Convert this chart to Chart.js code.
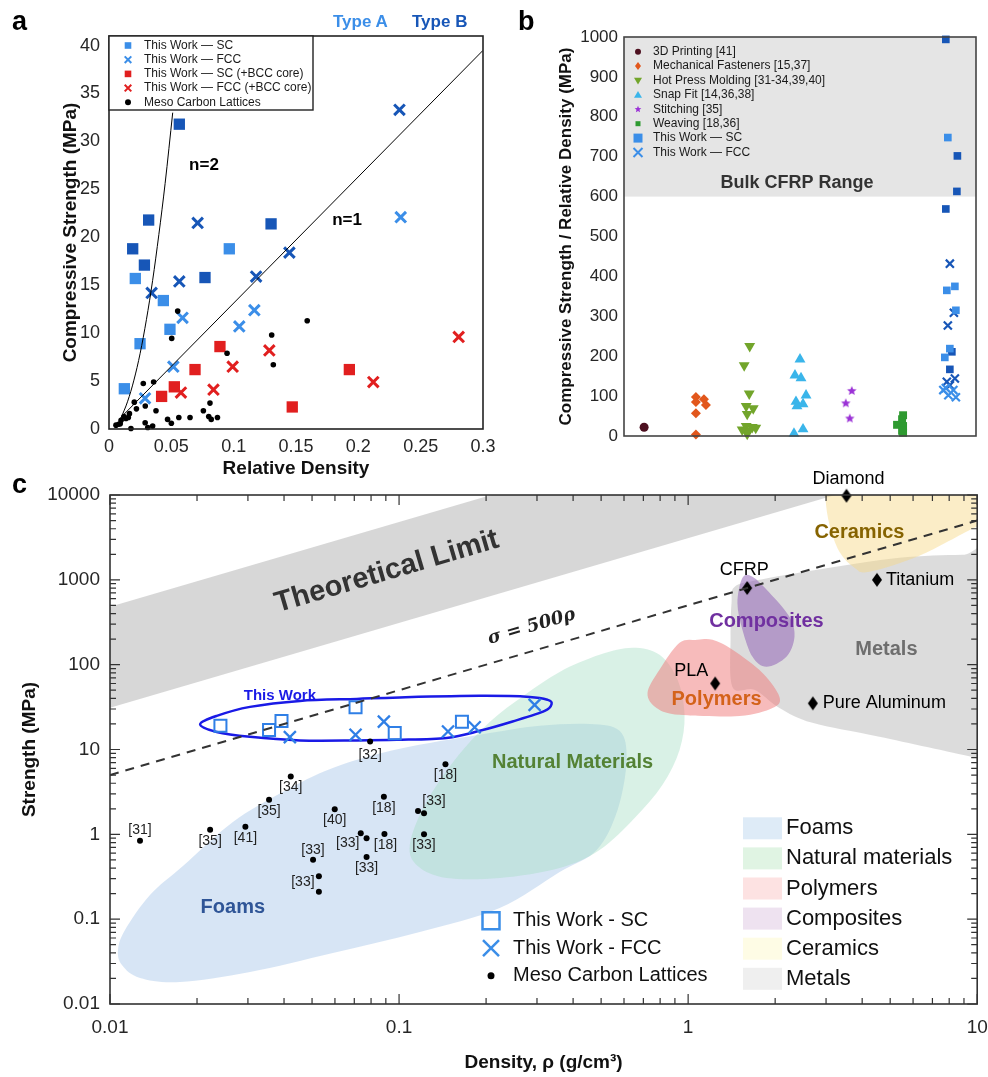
<!DOCTYPE html>
<html>
<head>
<meta charset="utf-8">
<title>Lattice strength comparison</title>
<script src="https://cdn.jsdelivr.net/npm/chart.js@4.4.1/dist/chart.umd.min.js"></script>
<style>
  html, body { margin: 0; padding: 0; background: #fff; }
  #fig { position: relative; width: 988px; height: 1077px; font-family: "Liberation Sans", Arial, sans-serif; }
  canvas { position: absolute; }
  #chartA { left: 0; top: 0; }
  #chartB { left: 500px; top: 0; }
  #chartC { left: 0; top: 466px; }
  .panel { position: absolute; font-weight: bold; font-size: 27px; line-height: 1; color: #000; }
  .typeLbl { position: absolute; font-weight: bold; font-size: 17px; line-height: 1; }
</style>
</head>
<body>
<div id="fig">
  <canvas id="chartA" width="500" height="480"></canvas>
  <canvas id="chartB" width="488" height="480"></canvas>
  <canvas id="chartC" width="988" height="611"></canvas>
  <div class="panel" style="left:12px;top:8px">a</div>
  <div class="panel" style="left:518px;top:8px">b</div>
  <div class="panel" style="left:12px;top:471px">c</div>
  <div class="typeLbl" style="left:333px;top:13px;color:#3b8ee8">Type A</div>
  <div class="typeLbl" style="left:412px;top:13px;color:#1756b7">Type B</div>
</div>
<script>
const FONT = '"Liberation Sans", Arial, Helvetica, sans-serif';
Chart.defaults.font.family = FONT;
Chart.defaults.color = '#262626';

const LIGHT = '#3b8ee8';
const DARK = '#1756b7';
const RED = '#e11f1f';
const xy = (xs, ys) => xs.map((x, i) => ({ x: x, y: ys[i] }));

// ---------------- panel a : relative density vs compressive strength ----------------
const densTicksA = [0, 0.05, 0.1, 0.15, 0.2, 0.25, 0.3];
const strengthTicksA = [0, 5, 10, 15, 20, 25, 30, 35, 40];

const scA_rho = [0.0123, 0.0211, 0.0249, 0.0436, 0.0489, 0.0965];
const scA_sig = [4.2, 15.7, 8.9, 13.4, 10.4, 18.8];
const scB_rho = [0.019, 0.0284, 0.0318, 0.0564, 0.077, 0.130];
const scB_sig = [18.8, 17.1, 21.8, 31.8, 15.8, 21.4];
const fccA_rho = [0.0289, 0.0516, 0.059, 0.1045, 0.1166, 0.234];
const fccA_sig = [3.2, 6.5, 11.6, 10.7, 12.4, 22.1];
const fccB_rho = [0.0342, 0.0564, 0.0711, 0.118, 0.1447, 0.233];
const fccB_sig = [14.2, 15.4, 21.5, 15.9, 18.4, 33.3];
const scBcc_rho = [0.0422, 0.0524, 0.069, 0.089, 0.147, 0.1928];
const scBcc_sig = [3.4, 4.4, 6.2, 8.6, 2.3, 6.2];
const fccBcc_rho = [0.0577, 0.0838, 0.0992, 0.1286, 0.212, 0.2805];
const fccBcc_sig = [3.8, 4.1, 6.5, 8.2, 4.9, 9.6];
const mesoA_rho = [0.0551, 0.0503, 0.159, 0.1305, 0.0947, 0.1318, 0.0275, 0.0358, 0.081, 0.0757, 0.080, 0.087,
  0.082, 0.065, 0.056, 0.047, 0.050, 0.0377, 0.0291, 0.0203, 0.022, 0.0164, 0.0136, 0.0097, 0.0056, 0.0176,
  0.029, 0.0311, 0.035, 0.009, 0.0078, 0.012, 0.0155];
const mesoA_sig = [12.3, 9.45, 11.3, 9.8, 7.9, 6.7, 4.75, 4.9, 2.7, 1.9, 1.3, 1.2,
  1.0, 1.2, 1.2, 1.0, 0.6, 1.9, 2.4, 2.8, 2.1, 1.6, 1.1, 0.9, 0.4, 0.05,
  0.65, 0.15, 0.3, 0.55, 0.5, 1.3, 1.2];
// scaling guide lines
const nTwo_rho = [0.0095, 0.015, 0.020, 0.025, 0.030, 0.035, 0.040, 0.045, 0.0511];
const nTwo_sig = [1.1, 2.9, 5.1, 7.9, 11.4, 15.5, 20.3, 25.6, 33.0];
const nOne_rho = [0.0095, 0.3];
const nOne_sig = [1.2, 39.5];

const legendA = [
  ['This Work \u2014 SC', 'rect', LIGHT],
  ['This Work \u2014 FCC', 'cross', LIGHT],
  ['This Work \u2014 SC (+BCC core)', 'rect', RED],
  ['This Work \u2014 FCC (+BCC core)', 'cross', RED],
  ['Meso Carbon Lattices', 'circle', '#000']
];

// ---------------- panel b : specific strength by joining method ----------------
const strengthTicksB = [0, 100, 200, 300, 400, 500, 600, 700, 800, 900, 1000];
const bulkCfrp = [600, 1000];
const printPos = [0.9];
const printVal = [22];
const fastenPos = [1.93, 2.09, 2.13, 1.93, 1.93, 1.93];
const fastenVal = [98, 92, 78, 85, 57, 4];
const pressPos = [3.0, 2.89, 2.99, 2.93, 3.07, 2.95, 2.93, 3.05, 3.12, 2.97, 2.95, 2.85];
const pressVal = [225, 177, 106, 75, 69, 55, 25, 22, 20, 12, 5, 16];
const snapPos = [4.0, 3.9, 4.02, 4.12, 3.92, 4.06, 3.94, 3.88, 4.06];
const snapVal = [192, 152, 145, 102, 86, 80, 75, 6, 17];
const stitchPos = [5.03, 4.91, 4.99];
const stitchVal = [113, 82, 44];
const weavePos = [6.05, 6.03, 5.93, 6.05, 6.03, 6.05];
const weaveVal = [52, 42, 28, 25, 13, 8];
const scLightPos = [6.94, 6.92, 7.08, 7.10, 6.98, 6.88];
const scLightVal = [748, 365, 375, 315, 219, 197];
const scDarkPos = [6.90, 7.13, 7.12, 6.90, 7.02, 6.98];
const scDarkVal = [994, 702, 613, 569, 211, 167];
const fccLightPos = [6.85, 7.05, 6.95, 7.10, 6.90];
const fccLightVal = [115, 115, 102, 97, 120];
const fccDarkPos = [6.98, 6.94, 7.06, 6.92, 7.08, 6.98];
const fccDarkVal = [432, 277, 309, 136, 144, 127];

const legendB = [
  ['3D Printing [41]', 'circle', '#4d1020', 3],
  ['Mechanical Fasteners [15,37]', 'diamond', '#e2571c', 4],
  ['Hot Press Molding [31-34,39,40]', 'triDown', '#72a52b', 4],
  ['Snap Fit [14,36,38]', 'triUp', '#3ab5ea', 4],
  ['Stitching [35]', 'star', '#9b32d6', 3.5],
  ['Weaving [18,36]', 'rect', '#2e9a30', 2.5],
  ['This Work \u2014 SC', 'rect', LIGHT, 4.5],
  ['This Work \u2014 FCC', 'cross', LIGHT, 4.5]
];

// ---------------- panel c : Ashby chart density vs strength ----------------
const rhoTicksC = [0.01, 0.1, 1, 10];
const sigTicksC = [0.01, 0.1, 1, 10, 100, 1000, 10000];

const workSC_rho = [0.0241, 0.0355, 0.0392, 0.0707, 0.0966, 0.165];
const workSC_sig = [19.0, 17.0, 21.7, 31.5, 15.6, 21.3];
const workFCC_rho = [0.0419, 0.0707, 0.0886, 0.1477, 0.1826, 0.2944];
const workFCC_sig = [14.0, 14.9, 21.3, 16.3, 18.3, 33.6];

const mesoC_rho = [0.0127, 0.0222, 0.0294, 0.0355, 0.0422, 0.0504, 0.0528, 0.0528, 0.0599, 0.0737,
  0.0772, 0.0772, 0.0794, 0.0886, 0.0890, 0.1163, 0.122, 0.122, 0.1447];
const mesoC_sig = [0.84, 1.13, 1.23, 2.55, 4.8, 0.50, 0.32, 0.21, 1.98, 1.03,
  0.90, 0.54, 12.4, 2.78, 1.01, 1.89, 1.77, 1.00, 6.7];
const mesoC_ref = ['[31]', '[35]', '[41]', '[35]', '[34]', '[33]', '[33]', '', '[40]', '[33]',
  '', '[33]', '[32]', '[18]', '[18]', '', '[33]', '[33]', '[18]'];
// label offsets (px) from each dot
const mesoC_lblDx = [0, 0, 0, 0, 0, 0, -16, 0, 0, -13, 0, 0, 0, 0, 1, 0, 10, 0, 0];
const mesoC_lblDy = [-11, 11, 11, 11, 11, -10, 6, 0, 11, 10, 0, 11, 14, 11, 11, 0, -12, 11, 11];

const matNames = ['Diamond', 'CFRP', 'PLA', 'Titanium', 'Pure Aluminum'];
const matRho = [3.53, 1.6, 1.24, 4.5, 2.7];
const matSig = [9800, 800, 60, 1000, 35];
const matLblPlace = [[2, -17, 'center'], [-3, -18, 'center'], [-24, -12, 'center'], [9, 0, 'left'], [10, 0, 'left']];

const refLine_rho = [0.01, 10];
const refLine_sig = [5, 5000];
const theoryLow_rho = [0.01, 10];
const theoryLow_sig = [31, 31000];
const theoryHigh_sig = [480, 480000];

const foams_rho = [0.01066, 0.01127, 0.01375, 0.01788, 0.02662, 0.03963, 0.0590, 0.1006, 0.190, 0.3065, 0.4563,
  0.5794, 0.6124, 0.570, 0.4825, 0.3594, 0.2229, 0.1179, 0.0590, 0.0305, 0.01746, 0.0127, 0.0110];
const foams_sig = [0.0434, 0.0747, 0.193, 0.424, 1.40, 3.16, 6.07, 10.2, 14.9, 19.0, 20.0,
  16.6, 7.54, 1.94, 0.655, 0.360, 0.1356, 0.0706, 0.0399, 0.0238, 0.01817, 0.0203, 0.0288];
const natural_rho = [0.6427, 0.4939, 0.3594, 0.2720, 0.2058, 0.1558, 0.1227, 0.1089, 0.1160, 0.1462, 0.2229,
  0.3594, 0.4939, 0.6530, 0.8155, 0.9340, 0.9719, 0.9193, 0.7962];
const natural_sig = [157.9, 130.5, 82.2, 44.0, 21.1, 7.54, 2.22, 0.750, 0.424, 0.306, 0.306,
  0.402, 0.655, 1.56, 3.83, 9.89, 25.6, 66.2, 130.5];
const polymers_rho = [1.078, 0.934, 0.796, 0.7237, 0.7778, 0.934, 1.505, 1.958, 2.070, 1.808, 1.424, 1.214];
const polymers_sig = [196, 180.8, 86.9, 46.5, 30.9, 25.6, 24.9, 30.9, 41.7, 80.0, 149.5, 196];
const composites_rho = [1.542, 1.670, 1.912, 2.241, 2.333, 2.188, 1.866, 1.670, 1.542, 1.481];
const composites_sig = [1056, 1084, 703, 366, 213, 123.6, 94.2, 123.6, 257, 535];
const metals_rho = [1.447, 1.766, 3.083, 5.379, 8.884, 11.92, 11.92, 9.616, 4.587, 2.692, 2.070, 1.696, 1.424, 1.402, 1.413];
const metals_sig = [826, 1000, 1386, 1817, 1972, 1920, 7.14, 8.18, 14.1, 20.6, 30.9, 50.5, 54.7, 213, 535];
const ceramics_rho = [2.985, 2.985, 3.083, 3.337, 3.761, 4.237, 6.307, 9.772, 11.92, 11.92];
const ceramics_sig = [19800, 9270, 4453, 2138, 1386, 1242, 1919, 4103, 5383, 19800];
const thisWork_rho = [0.0205, 0.0234, 0.0305, 0.0454, 0.0714, 0.1006, 0.190, 0.283, 0.327, 0.337, 0.319,
  0.247, 0.190, 0.146, 0.0982, 0.0714, 0.0454, 0.0305, 0.0234];
const thisWork_sig = [19.8, 24.9, 31.8, 37.4, 39.5, 41.1, 42.9, 41.7, 38.5, 34.5, 28.5,
  21.4, 16.6, 13.7, 13.0, 12.8, 12.8, 14.1, 16.1];

const regionsC = [
  { rho: foams_rho, sig: foams_sig, fill: 'rgba(176,204,236,0.5)' },
  { rho: natural_rho, sig: natural_sig, fill: 'rgba(165,222,195,0.42)' },
  { rho: metals_rho, sig: metals_sig, fill: 'rgba(178,178,178,0.45)' },
  { rho: polymers_rho, sig: polymers_sig, fill: 'rgba(240,120,120,0.5)' },
  { rho: composites_rho, sig: composites_sig, fill: 'rgba(140,90,180,0.5)' },
  { rho: ceramics_rho, sig: ceramics_sig, fill: 'rgba(246,214,130,0.45)' }
];
const regionLabels = [
  ['Foams', 0.0266, 0.136, '#2f5597'],
  ['Natural Materials', 0.3985, 6.95, '#548235'],
  ['Polymers', 1.254, 38.5, '#d4621a'],
  ['Composites', 1.866, 320, '#7030a0'],
  ['Metals', 4.851, 149.5, '#6e6e6e'],
  ['Ceramics', 3.913, 3581, '#866300']
];
const legendC1 = [['This Work - SC', 'openRect', LIGHT, 8.5], ['This Work - FCC', 'cross', LIGHT, 8], ['Meso Carbon Lattices', 'circle', '#000', 3.5]];
const legendC2 = [['Foams', '#deebf7'], ['Natural materials', '#e0f4e3'], ['Polymers', '#fde2e2'],
  ['Composites', '#eee2f0'], ['Ceramics', '#fefce5'], ['Metals', '#efefef']];

// ---------------- helpers ----------------
function starPath(g, cx, cy, r) {
  for (let i = 0; i < 10; i++) {
    const a = -Math.PI / 2 + i * Math.PI / 5;
    const rr = i % 2 ? r * 0.45 : r;
    const px = cx + rr * Math.cos(a), py = cy + rr * Math.sin(a);
    if (i) g.lineTo(px, py); else g.moveTo(px, py);
  }
  g.closePath();
}
function starImage(r, color) {
  const c = document.createElement('canvas');
  c.width = c.height = Math.ceil(r * 2 + 2);
  const g = c.getContext('2d');
  g.fillStyle = color;
  g.beginPath();
  starPath(g, c.width / 2, c.height / 2, r);
  g.fill();
  return c;
}
function tallDiamond(w, h, color) {
  const c = document.createElement('canvas');
  c.width = w + 2; c.height = h + 2;
  const g = c.getContext('2d');
  g.fillStyle = color;
  g.beginPath();
  g.moveTo(c.width / 2, 1); g.lineTo(w + 1, c.height / 2); g.lineTo(c.width / 2, h + 1); g.lineTo(1, c.height / 2);
  g.closePath();
  g.fill();
  return c;
}
function mark(ctx, shape, x, y, r, color, lw) {
  ctx.save();
  ctx.fillStyle = color; ctx.strokeStyle = color; ctx.lineWidth = lw || 2;
  ctx.beginPath();
  if (shape === 'rect') { ctx.rect(x - r, y - r, 2 * r, 2 * r); ctx.fill(); }
  else if (shape === 'openRect') { ctx.rect(x - r, y - r, 2 * r, 2 * r); ctx.stroke(); }
  else if (shape === 'circle') { ctx.arc(x, y, r, 0, Math.PI * 2); ctx.fill(); }
  else if (shape === 'diamond') {
    ctx.moveTo(x, y - r); ctx.lineTo(x + r * 0.75, y); ctx.lineTo(x, y + r); ctx.lineTo(x - r * 0.75, y);
    ctx.closePath(); ctx.fill();
  } else if (shape === 'triUp') {
    ctx.moveTo(x, y - r); ctx.lineTo(x + r, y + r * 0.7); ctx.lineTo(x - r, y + r * 0.7); ctx.closePath(); ctx.fill();
  } else if (shape === 'triDown') {
    ctx.moveTo(x, y + r); ctx.lineTo(x + r, y - r * 0.7); ctx.lineTo(x - r, y - r * 0.7); ctx.closePath(); ctx.fill();
  } else if (shape === 'star') { starPath(ctx, x, y, r); ctx.fill(); }
  else if (shape === 'cross') {
    ctx.moveTo(x - r, y - r); ctx.lineTo(x + r, y + r);
    ctx.moveTo(x + r, y - r); ctx.lineTo(x - r, y + r);
    ctx.stroke();
  }
  ctx.restore();
}
function text(ctx, str, x, y, font, color, align, rot) {
  ctx.save();
  ctx.font = font;
  ctx.fillStyle = color;
  ctx.textAlign = align || 'center';
  ctx.textBaseline = 'middle';
  ctx.translate(x, y);
  if (rot) ctx.rotate(rot);
  ctx.fillText(str, 0, 0);
  ctx.restore();
}
// closed Catmull-Rom curve through pixel points
function smoothClosed(ctx, pts) {
  const n = pts.length;
  ctx.moveTo(pts[0][0], pts[0][1]);
  for (let i = 0; i < n; i++) {
    const p0 = pts[(i - 1 + n) % n], p1 = pts[i], p2 = pts[(i + 1) % n], p3 = pts[(i + 2) % n];
    ctx.bezierCurveTo(p1[0] + (p2[0] - p0[0]) / 6, p1[1] + (p2[1] - p0[1]) / 6,
      p2[0] - (p3[0] - p1[0]) / 6, p2[1] - (p3[1] - p1[1]) / 6, p2[0], p2[1]);
  }
  ctx.closePath();
}
function frame(chart, color) {
  const a = chart.chartArea, ctx = chart.ctx;
  ctx.save();
  ctx.strokeStyle = color;
  ctx.lineWidth = 1.6;
  ctx.strokeRect(a.left, a.top, a.right - a.left, a.bottom - a.top);
  ctx.restore();
}
const fixedTicks = (vals) => (scale) => { scale.ticks = vals.map(v => ({ value: v })); };
// fixed axis thickness; tick-label overhang is covered by the layout padding instead
const fixHeight = (h) => (s) => { s.height = h; s.paddingLeft = 0; s.paddingRight = 0; };
const fixWidth = (w) => (s) => { s.width = w; s.paddingTop = 0; s.paddingBottom = 0; };
const baseOpts = {
  responsive: false,
  animation: false,
  devicePixelRatio: 1,
  events: []
};
const noLegend = { legend: { display: false }, tooltip: { enabled: false } };

// ---------------- chart a ----------------
const panelA = {
  id: 'panelA',
  afterDraw(chart) {
    const ctx = chart.ctx, a = chart.chartArea, x = chart.scales.x, y = chart.scales.y;
    frame(chart, '#222');
    text(ctx, 'n=2', x.getPixelForValue(0.0762), y.getPixelForValue(27.5), 'bold 17px ' + FONT, '#000');
    text(ctx, 'n=1', x.getPixelForValue(0.191), y.getPixelForValue(21.8), 'bold 17px ' + FONT, '#000');
    // legend box
    ctx.save();
    ctx.fillStyle = '#fff';
    ctx.strokeStyle = '#222';
    ctx.lineWidth = 1.4;
    ctx.fillRect(a.left, a.top, 204, 74);
    ctx.strokeRect(a.left, a.top, 204, 74);
    ctx.restore();
    legendA.forEach((it, i) => {
      const yy = a.top + 9.5 + i * 14.2;
      mark(ctx, it[1], a.left + 19, yy, it[1] === 'circle' ? 3 : 3.3, it[2], 2);
      text(ctx, it[0], a.left + 35, yy, '12px ' + FONT, '#1a1a1a', 'left');
    });
  }
};
new Chart(document.getElementById('chartA'), {
  type: 'scatter',
  data: {
    datasets: [
      { data: xy(nTwo_rho, nTwo_sig), showLine: true, borderColor: '#000', borderWidth: 1, pointRadius: 0, cubicInterpolationMode: 'monotone' },
      { data: xy(nOne_rho, nOne_sig), showLine: true, borderColor: '#000', borderWidth: 1, pointRadius: 0 },
      { data: xy(mesoA_rho, mesoA_sig), pointStyle: 'circle', pointRadius: 2.8, pointBackgroundColor: '#000', pointBorderWidth: 0, clip: false },
      { data: xy(scBcc_rho, scBcc_sig), pointStyle: 'rect', pointRadius: 8, pointBackgroundColor: RED, pointBorderWidth: 0, clip: false },
      { data: xy(fccBcc_rho, fccBcc_sig), pointStyle: 'crossRot', pointRadius: 7.5, pointBorderColor: RED, pointBorderWidth: 3, clip: false },
      { data: xy(scA_rho, scA_sig), pointStyle: 'rect', pointRadius: 8, pointBackgroundColor: LIGHT, pointBorderWidth: 0, clip: false },
      { data: xy(fccA_rho, fccA_sig), pointStyle: 'crossRot', pointRadius: 7.5, pointBorderColor: LIGHT, pointBorderWidth: 3, clip: false },
      { data: xy(scB_rho, scB_sig), pointStyle: 'rect', pointRadius: 8, pointBackgroundColor: DARK, pointBorderWidth: 0, clip: false },
      { data: xy(fccB_rho, fccB_sig), pointStyle: 'crossRot', pointRadius: 7.5, pointBorderColor: DARK, pointBorderWidth: 3, clip: false }
    ]
  },
  options: Object.assign({}, baseOpts, {
    layout: { padding: { left: 55, top: 36, right: 17, bottom: 0 } },
    plugins: noLegend,
    scales: {
      x: {
        type: 'linear', min: 0, max: 0.3,
        afterBuildTicks: fixedTicks(densTicksA),
        afterFit: fixHeight(51),
        grid: { display: false, drawTicks: false }, border: { display: false },
        ticks: { font: { size: 18 }, padding: 7, autoSkip: false, maxRotation: 0, callback: (v) => String(v) },
        title: { display: true, text: 'Relative Density', font: { size: 19, weight: 'bold' }, color: '#111', padding: { top: 0, bottom: 0 } }
      },
      y: {
        type: 'linear', min: 0, max: 41,
        afterBuildTicks: fixedTicks(strengthTicksA),
        afterFit: fixWidth(54),
        grid: { display: false, drawTicks: false }, border: { display: false },
        ticks: { font: { size: 18 }, padding: 9, callback: (v) => String(v) },
        title: { display: true, text: 'Compressive Strength (MPa)', font: { size: 19, weight: 'bold' }, color: '#111' }
      }
    }
  }),
  plugins: [panelA]
});

// ---------------- chart b ----------------
const panelB = {
  id: 'panelB',
  beforeDatasetsDraw(chart) {
    const ctx = chart.ctx, a = chart.chartArea, y = chart.scales.y;
    const top = y.getPixelForValue(bulkCfrp[1]), bot = y.getPixelForValue(bulkCfrp[0]);
    ctx.save();
    ctx.fillStyle = '#e5e5e5';
    ctx.fillRect(a.left, top, a.right - a.left, bot - top);
    ctx.restore();
    text(ctx, 'Bulk CFRP Range', (a.left + a.right) / 2 - 3, y.getPixelForValue(634), 'bold 18px ' + FONT, '#333');
  },
  afterDatasetsDraw(chart) {
    const ctx = chart.ctx, a = chart.chartArea;
    legendB.forEach((it, i) => {
      const yy = a.top + 14.7 + i * 14.4;
      mark(ctx, it[1], a.left + 14, yy, it[3], it[2], 2);
      text(ctx, it[0], a.left + 29, yy, '12px ' + FONT, '#1a1a1a', 'left');
    });
  },
  afterDraw(chart) { frame(chart, '#444'); }
};
new Chart(document.getElementById('chartB'), {
  type: 'scatter',
  data: {
    datasets: [
      { data: xy(printPos, printVal), pointStyle: 'circle', pointRadius: 4.5, pointBackgroundColor: '#4d1020', pointBorderWidth: 0, clip: false },
      { data: xy(fastenPos, fastenVal), pointStyle: 'rectRot', pointRadius: 5, pointBackgroundColor: '#e2571c', pointBorderWidth: 0, clip: false },
      { data: xy(pressPos, pressVal), pointStyle: 'triangle', rotation: 180, pointRadius: 6.3, pointBackgroundColor: '#72a52b', pointBorderWidth: 0, clip: false },
      { data: xy(snapPos, snapVal), pointStyle: 'triangle', pointRadius: 6.3, pointBackgroundColor: '#3ab5ea', pointBorderWidth: 0, clip: false },
      { data: xy(stitchPos, stitchVal), pointStyle: starImage(5, '#9b32d6'), pointRadius: 5, clip: false },
      { data: xy(weavePos, weaveVal), pointStyle: 'rect', pointRadius: 5.6, pointBackgroundColor: '#2e9a30', pointBorderWidth: 0, clip: false },
      { data: xy(scLightPos, scLightVal), pointStyle: 'rect', pointRadius: 5.4, pointBackgroundColor: LIGHT, pointBorderWidth: 0, clip: false },
      { data: xy(scDarkPos, scDarkVal), pointStyle: 'rect', pointRadius: 5.4, pointBackgroundColor: DARK, pointBorderWidth: 0, clip: false },
      { data: xy(fccLightPos, fccLightVal), pointStyle: 'crossRot', pointRadius: 5.7, pointBorderColor: LIGHT, pointBorderWidth: 2.2, clip: false },
      { data: xy(fccDarkPos, fccDarkVal), pointStyle: 'crossRot', pointRadius: 5.7, pointBorderColor: DARK, pointBorderWidth: 2.2, clip: false }
    ]
  },
  options: Object.assign({}, baseOpts, {
    layout: { padding: { left: 52, top: 37, right: 12, bottom: 44 } },
    plugins: noLegend,
    scales: {
      x: { type: 'linear', min: 0.5, max: 7.5, display: false },
      y: {
        type: 'linear', min: 0, max: 1000,
        afterBuildTicks: fixedTicks(strengthTicksB),
        afterFit: fixWidth(72),
        grid: { display: false, drawTicks: false }, border: { display: false },
        ticks: { font: { size: 17 }, padding: 6, callback: (v) => String(v) },
        title: { display: true, text: 'Compressive Strength / Relative Density (MPa)', font: { size: 17, weight: 'bold' }, color: '#111' }
      }
    }
  }),
  plugins: [panelB]
});

// ---------------- chart c ----------------
function logTicks(ctx, scale, a, horizontal) {
  const lo = Math.floor(Math.log10(scale.min)), hi = Math.ceil(Math.log10(scale.max));
  ctx.beginPath();
  for (let e = lo; e <= hi; e++) {
    for (let m = 1; m < 10; m++) {
      const v = m * Math.pow(10, e);
      if (v < scale.min * 0.999 || v > scale.max * 1.001) continue;
      const len = m === 1 ? 10 : 6;
      const p = scale.getPixelForValue(v);
      if (horizontal) {
        ctx.moveTo(p, a.bottom); ctx.lineTo(p, a.bottom - len);
        ctx.moveTo(p, a.top); ctx.lineTo(p, a.top + len);
      } else {
        ctx.moveTo(a.left, p); ctx.lineTo(a.left + len, p);
        ctx.moveTo(a.right, p); ctx.lineTo(a.right - len, p);
      }
    }
  }
  ctx.stroke();
}
const panelC = {
  id: 'panelC',
  beforeDatasetsDraw(chart) {
    const ctx = chart.ctx, a = chart.chartArea, x = chart.scales.x, y = chart.scales.y;
    const px = (r, s) => [x.getPixelForValue(r), y.getPixelForValue(s)];
    ctx.save();
    ctx.beginPath();
    ctx.rect(a.left, a.top, a.right - a.left, a.bottom - a.top);
    ctx.clip();
    // theoretical limit band
    const band = [px(theoryLow_rho[0], theoryLow_sig[0]), px(theoryLow_rho[1], theoryLow_sig[1]),
      px(theoryLow_rho[1], theoryHigh_sig[1]), px(theoryLow_rho[0], theoryHigh_sig[0])];
    ctx.fillStyle = 'rgba(176,176,176,0.5)';
    ctx.beginPath();
    band.forEach((p, i) => i ? ctx.lineTo(p[0], p[1]) : ctx.moveTo(p[0], p[1]));
    ctx.closePath();
    ctx.fill();
    regionsC.forEach(r => {
      ctx.fillStyle = r.fill;
      ctx.beginPath();
      smoothClosed(ctx, r.rho.map((v, i) => px(v, r.sig[i])));
      ctx.fill();
    });
    const slope = Math.atan2(band[1][1] - band[0][1], band[1][0] - band[0][0]);
    const tl = px(0.0907, 1242);
    text(ctx, 'Theoretical Limit', tl[0], tl[1], 'bold 29px ' + FONT, '#333', 'center', slope);
    regionLabels.forEach(l => {
      const p = px(l[1], l[2]);
      text(ctx, l[0], p[0], p[1], 'bold 20px ' + FONT, l[3]);
    });
    // "This Work" envelope
    ctx.strokeStyle = '#1a1ae6';
    ctx.lineWidth = 2.5;
    ctx.beginPath();
    smoothClosed(ctx, thisWork_rho.map((v, i) => px(v, thisWork_sig[i])));
    ctx.stroke();
    const tw = px(0.0387, 43.4);
    text(ctx, 'This Work', tw[0], tw[1], 'bold 15px ' + FONT, '#1a1ae6');
    const sl = px(0.2875, 279);
    text(ctx, '\u03c3 = 500\u03c1', sl[0], sl[1], 'italic bold 18px "DejaVu Serif", serif', '#222', 'center', slope);
    ctx.restore();
  },
  afterDatasetsDraw(chart) {
    const ctx = chart.ctx, x = chart.scales.x, y = chart.scales.y;
    mesoC_ref.forEach((ref, i) => {
      if (!ref) return;
      text(ctx, ref, x.getPixelForValue(mesoC_rho[i]) + mesoC_lblDx[i], y.getPixelForValue(mesoC_sig[i]) + mesoC_lblDy[i], '14px ' + FONT, '#222');
    });
    matNames.forEach((n, i) => {
      const pl = matLblPlace[i];
      text(ctx, n, x.getPixelForValue(matRho[i]) + pl[0], y.getPixelForValue(matSig[i]) + pl[1], '18px ' + FONT, '#000', pl[2]);
    });
  },
  afterDraw(chart) {
    const ctx = chart.ctx, a = chart.chartArea;
    ctx.save();
    ctx.strokeStyle = '#333';
    ctx.lineWidth = 1.2;
    logTicks(ctx, chart.scales.x, a, true);
    logTicks(ctx, chart.scales.y, a, false);
    ctx.restore();
    frame(chart, '#333');
    legendC1.forEach((it, i) => {
      const yy = 454.7 + i * 27.5;
      mark(ctx, it[1], 491, yy, it[3], it[2], 2.5);
      text(ctx, it[0], 513, yy, '20px ' + FONT, '#111', 'left');
    });
    legendC2.forEach((it, i) => {
      const yy = 362.3 + i * 30.1;
      ctx.fillStyle = it[1];
      ctx.fillRect(743, yy - 11, 39, 22);
      text(ctx, it[0], 786, yy, '22px ' + FONT, '#111', 'left');
    });
  }
};
new Chart(document.getElementById('chartC'), {
  type: 'scatter',
  data: {
    datasets: [
      { data: xy(refLine_rho, refLine_sig), showLine: true, borderColor: '#333', borderWidth: 2, borderDash: [9, 7], pointRadius: 0 },
      { data: xy(mesoC_rho, mesoC_sig), pointStyle: 'circle', pointRadius: 3, pointBackgroundColor: '#000', pointBorderWidth: 0, clip: false },
      { data: xy(workSC_rho, workSC_sig), pointStyle: 'rect', pointRadius: 8.5, pointBackgroundColor: 'rgba(0,0,0,0)', pointBorderColor: '#2f7fe6', pointBorderWidth: 2, clip: false },
      { data: xy(workFCC_rho, workFCC_sig), pointStyle: 'crossRot', pointRadius: 8.5, pointBorderColor: '#2f7fe6', pointBorderWidth: 2.3, clip: false },
      { data: xy(matRho, matSig), pointStyle: tallDiamond(10, 14, '#000'), pointRadius: 6, clip: false }
    ]
  },
  options: Object.assign({}, baseOpts, {
    layout: { padding: { left: 14, top: 29, right: 10, bottom: 0 } },
    plugins: noLegend,
    scales: {
      x: {
        type: 'logarithmic', min: 0.01, max: 10,
        afterBuildTicks: fixedTicks(rhoTicksC),
        afterFit: fixHeight(73),
        grid: { display: false, drawTicks: false }, border: { display: false },
        ticks: { font: { size: 19 }, padding: 12, autoSkip: false, maxRotation: 0, callback: (v) => String(v) },
        title: { display: true, text: 'Density, \u03c1 (g/cm\u00b3)', font: { size: 19, weight: 'bold' }, color: '#111', padding: { top: 0, bottom: 3 } }
      },
      y: {
        type: 'logarithmic', min: 0.01, max: 10000,
        afterBuildTicks: fixedTicks(sigTicksC),
        afterFit: fixWidth(96),
        grid: { display: false, drawTicks: false }, border: { display: false },
        ticks: { font: { size: 19 }, padding: 10, autoSkip: false, callback: (v) => String(v) },
        title: { display: true, text: 'Strength (MPa)', font: { size: 19, weight: 'bold' }, color: '#111' }
      }
    }
  }),
  plugins: [panelC]
});
</script>
</body>
</html>
